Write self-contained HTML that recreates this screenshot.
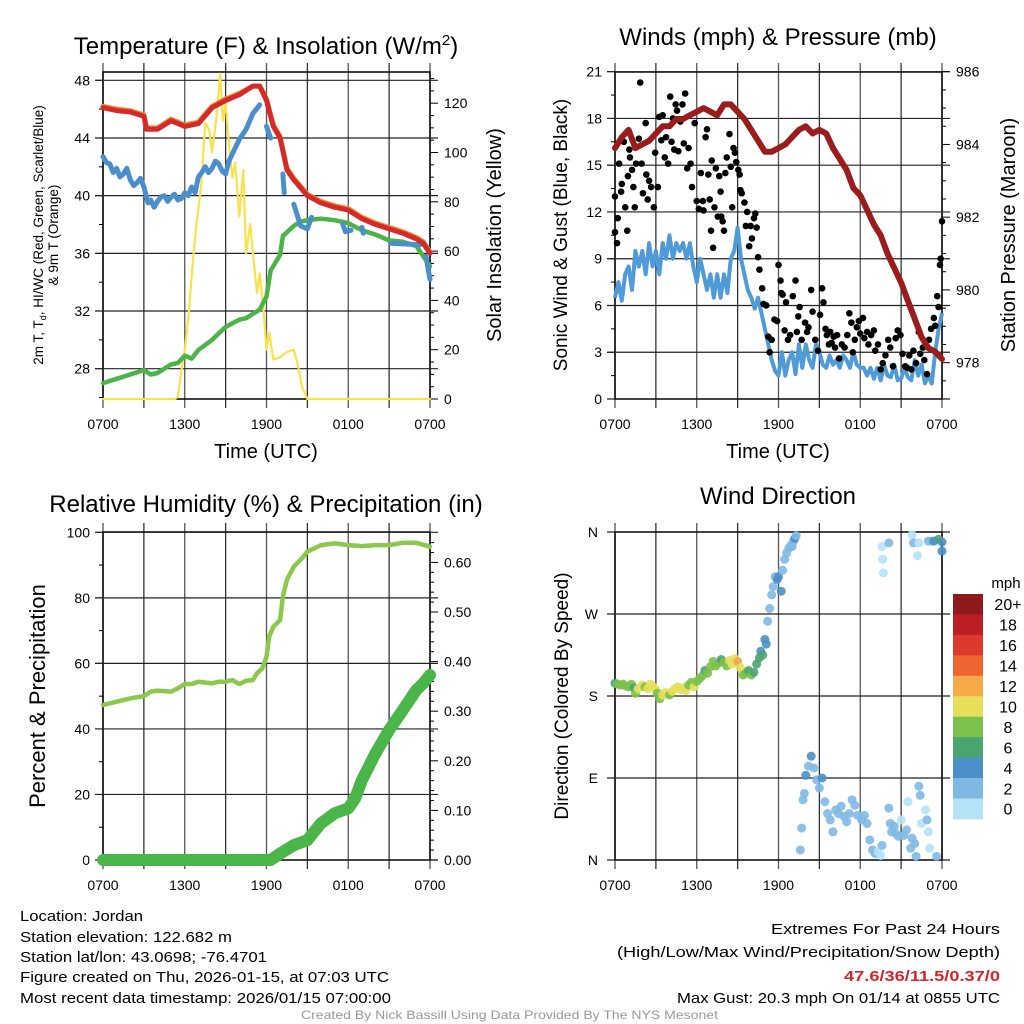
<!DOCTYPE html>
<html><head><meta charset="utf-8">
<style>
html,body{margin:0;padding:0;background:#fff;}
svg{display:block;font-family:"Liberation Sans",sans-serif;}
</style></head>
<body>
<svg id="fig" width="1024" height="1024" viewBox="0 0 1024 1024" xmlns="http://www.w3.org/2000/svg">
<g id="g1"></g>
<g id="g2"></g>
<g id="g3"></g>
<g id="g4"></g>
<g id="info" font-size="15" fill="#000">
<text x="20" y="921" textLength="123" lengthAdjust="spacingAndGlyphs">Location: Jordan</text>
<text x="20" y="942" textLength="212" lengthAdjust="spacingAndGlyphs">Station elevation: 122.682 m</text>
<text x="20" y="962" textLength="247" lengthAdjust="spacingAndGlyphs">Station lat/lon: 43.0698; -76.4701</text>
<text x="20" y="982" textLength="369" lengthAdjust="spacingAndGlyphs">Figure created on Thu, 2026-01-15, at 07:03 UTC</text>
<text x="20" y="1003" textLength="371" lengthAdjust="spacingAndGlyphs">Most recent data timestamp: 2026/01/15 07:00:00</text>
<text x="771" y="934" textLength="229" lengthAdjust="spacingAndGlyphs">Extremes For Past 24 Hours</text>
<text x="617" y="957" textLength="383" lengthAdjust="spacingAndGlyphs">(High/Low/Max Wind/Precipitation/Snow Depth)</text>
<text x="844" y="981" textLength="156" lengthAdjust="spacingAndGlyphs" font-weight="bold" fill="#d0272b">47.6/36/11.5/0.37/0</text>
<text x="677" y="1003" textLength="323" lengthAdjust="spacingAndGlyphs">Max Gust: 20.3 mph On 01/14 at 0855 UTC</text>
<text x="301" y="1019" font-size="12" fill="#999" textLength="417" lengthAdjust="spacingAndGlyphs">Created By Nick Bassill Using Data Provided By The NYS Mesonet</text>
</g>
</svg>
<script>
// ---------- data ----------
const xTickLabels = ["0700","1300","1900","0100","0700"];
// Panel 1: temperature
const tempHours = [0,1,2,3,3.2,4,5,6,7,8,9,10,11,11.5,12,12.5,13,13.5,14,15,16,17,18,19,20,21,22,23,23.5,24];
const tempRed = [46.1,45.9,45.8,45.5,44.6,44.6,45.2,44.8,45.0,46.1,46.6,47.0,47.6,47.6,46.6,44.8,44.0,41.8,41.1,40.0,39.5,39.2,39.0,38.4,38.0,37.7,37.4,37.0,36.7,36.0];
const tempOrange = [46.2,46.0,45.9,45.6,44.7,44.7,45.3,44.9,45.1,46.2,46.7,47.1,47.6,47.6,46.7,44.9,44.1,41.9,41.2,40.1,39.6,39.3,39.1,38.5,38.1,37.8,37.5,37.1,36.8,36.1];
const dewHours = [0,1,2,3,3.5,4,5,5.5,6,6.5,7,8,9,10,10.5,11,11.5,12,12.3,13,13.2,14,14.5,15,16,17,18,19,20,21,22,23,24];
const dewGreen = [27.0,27.3,27.6,27.9,27.6,27.7,28.3,28.4,28.9,28.7,29.3,30.0,30.9,31.4,31.5,31.8,32.1,33.0,34.8,35.9,37.2,37.9,38.2,38.3,38.4,38.3,38.1,37.6,37.3,36.9,36.8,36.5,35.1];
const chillHours = [0,0.25,0.5,0.75,1,1.25,1.5,1.75,2,2.25,2.5,2.75,3,3.3,3.5,3.75,4,4.25,4.5,4.75,5,5.25,5.5,5.75,6,6.25,6.5,6.75,7,7.25,7.5,7.75,8,8.25,8.5,8.75,9,9.25,9.5,10,10.5,11,11.5,11.7,12,12.3,12.5,13.2,13.3,13.6,14,14.5,15,15.3,15.5,17.6,17.8,18.2,18.4,19,19.1,21,21.1,23.3,23.4,23.7,24];
const chillBlue = [42.7,42.3,42.2,41.6,41.9,41.3,41.5,41.9,41.1,40.7,40.9,41.2,40.6,39.5,39.7,39.2,39.6,39.9,40.0,39.6,39.9,40.1,39.7,39.8,40.2,40.0,40.6,40.2,41.3,41.6,42.0,41.6,41.9,42.4,42.2,41.7,41.5,42.4,42.9,43.9,44.6,45.7,46.3,null,44.8,44.0,null,41.5,40.2,null,39.4,37.9,37.7,38.5,null,38.0,37.5,37.6,null,37.8,37.4,null,36.7,36.6,null,35.8,34.2,32.1];
const solarHours = [0,5.3,5.5,5.8,6,6.3,6.6,6.9,7.2,7.5,7.8,8,8.3,8.6,8.8,9,9.3,9.5,9.7,10,10.3,10.5,10.8,11,11.3,11.5,11.8,12,12.2,12.5,13,13.5,14,14.3,14.6,15,24];
const solarYellow = [0,0,1,13,20,35,56,73,86,112,109,100,113,132,113,120,100,90,96,74,93,59,71,59,43,51,35,20,27,16,17,19,20,14,5,0,0];
// Panel 2: winds & pressure
const presHours = [0,0.5,1,1.5,2,2.5,3,3.5,4,4.5,5,5.5,6,6.5,7,7.5,8,8.5,9,9.5,10,10.5,11,11.5,12,12.5,13,13.5,14,14.5,15,15.5,16,16.5,17,17.5,18,18.5,19,19.5,20,20.5,21,21.5,22,22.5,23,23.5,24];
const pressure = [983.9,984.2,984.4,983.9,984.0,984.1,984.3,984.5,984.5,984.7,984.7,984.8,984.9,985.0,984.9,984.8,985.1,985.1,984.9,984.7,984.4,984.1,983.8,983.8,983.9,984.0,984.2,984.4,984.5,984.3,984.4,984.3,983.9,983.6,983.3,982.8,982.6,982.2,981.8,981.5,981.0,980.6,980.2,979.7,979.2,978.7,978.4,978.3,978.1];
const windSpeed = [6.5,7.5,6.3,8,8.5,7,9.5,8.5,9.5,8,10,8.5,9.5,8,10,9,10.5,9,10,9.5,10,9,10,8.5,7.5,9,8,7,8,6.5,8,6.5,8,6.8,9,9.5,11,9,8,7,6.5,5.8,6.5,5.5,4.5,3.5,2.5,1.8,1.5,3,1.5,2.5,3,1.6,3.5,2,3.5,2.5,2,3.5,3,2.2,2,2.8,2.2,2.5,2,2.8,2.5,2,3,2.2,2,2,1.5,2,1.3,2,1.2,2.2,1.5,1.4,2.2,1.2,1.3,2,1.4,1.2,2.5,1.5,2.2,1,1.5,1,3,4.5,5.5];
const gustHours = [0,0,0.15,0.2,0.3,0.45,0.5,0.65,0.75,0.9,0.95,1.05,1.1,1.25,1.35,1.45,1.55,1.75,1.85,1.95,2.05,2.25,2.3,2.4,2.5,2.65,2.85,2.95,3.15,3.25,3.4,3.5,3.65,3.75,3.9,4.05,4.15,4.25,4.35,4.45,4.55,4.65,4.8,4.95,5.05,5.15,5.3,5.4,5.55,5.65,5.85,6,6.15,6.3,6.45,6.5,6.65,6.75,6.85,6.95,7.05,7.1,7.2,7.3,7.4,7.55,7.65,7.75,7.8,7.9,8,8.1,8.2,8.4,8.5,8.6,8.7,8.8,8.9,9.05,9.15,9.2,9.3,9.5,9.6,9.7,9.85,9.95,10.05,10.2,10.3,10.4,10.5,10.6,10.8,10.9,11.1,11.25,11.35,11.5,11.7,11.9,12,12.15,12.2,12.3,12.45,12.55,12.7,12.85,13.05,13.25,13.35,13.45,13.55,13.7,13.95,14.1,14.2,14.4,14.5,14.7,14.9,15.05,15.2,15.3,15.45,15.55,15.7,15.8,15.9,16.05,16.15,16.3,16.45,16.65,16.85,17.05,17.2,17.35,17.45,17.6,17.75,17.9,18,18.2,18.3,18.5,18.6,18.8,19,19.1,19.3,19.5,19.65,19.85,20.05,20.2,20.4,20.6,20.75,20.95,21.1,21.3,21.45,21.6,21.75,21.9,22.1,22.3,22.4,22.6,22.7,22.9,23.05,23.2,23.4,23.5,23.65,23.75,23.85,23.9,24];
const gustSpeed = [10.7,13,10,11.6,15.1,13.3,13.8,16.5,12.3,10.8,14.3,16,15.5,14.7,13.6,12.3,15.1,16.7,20.3,15.1,13.2,17.7,14.4,12.8,14,13.6,12.3,15.8,13.6,18.1,16.6,18.2,15.5,16.8,15.1,19.4,16.5,18,16,18.9,18.5,15.9,17.8,18.9,16.4,19.6,14.8,16.1,15.1,13.6,17.7,12.7,12.2,14.5,12.7,12.1,16.8,17.3,14.4,12.8,10.8,15.3,9.7,12.3,14.8,11.7,14.3,13.3,11.7,11.4,10.8,14.5,15.5,17,14.9,12.3,16.1,15.8,15.2,14.7,14.4,13.4,13.2,12.6,11.1,12,9.8,11.1,10.3,11.6,11.9,11,9.1,8.3,7.1,6.1,6,4,3,3.8,5.1,5,8.6,7.6,6.8,6.7,4.4,6.2,3.8,4.1,6.6,7.6,4.3,5.3,5.9,3.8,4.9,4.3,4.6,7,5.6,3.8,3.1,5.4,7.1,6.2,4.5,4.1,3.5,4.3,3.6,4,3.3,4.1,2.6,3.5,3.3,4.1,5.5,4.9,3,3.8,4.6,5,4.2,5.2,3.9,4.3,3.5,4.1,4.4,3.1,3.5,1.9,2.3,2.8,3.8,3.3,2.1,3.9,4.4,4.1,2.9,2.1,2,2.8,1.9,3.1,2.3,4.3,2.9,3.3,2.5,1.6,3.8,4.5,5.2,4.7,6.6,5.9,8.6,9,11.4];
// Panel 3: RH & precipitation
const rhHours = [0,1,2,3,3.5,4,5,5.5,6,6.5,7,8,8.5,9,9.5,10,10.5,11,11.3,11.7,12,12.2,12.5,13,13.2,13.5,14,14.5,15,15.5,16,17,18,19,20,21,22,23,24];
const rhValues = [47.3,48.3,49.3,50,51.4,51.7,51.4,52.4,53.7,53.7,54.4,53.9,54.4,54.4,54.9,53.7,54.7,54.9,57,58.5,62,68.2,71.2,73.2,80.4,85.5,89.5,91.6,94.1,95.1,96.1,96.6,96.1,95.8,96.1,96.1,96.8,96.8,95.6];
const precipHours = [0,12.3,13,14,15,16,17,18,18.5,19,20,21,22,23,23.5,24];
const precipValues = [0,0,0.013,0.03,0.04,0.074,0.094,0.104,0.124,0.161,0.215,0.262,0.302,0.343,0.356,0.373];
// Panel 4: wind direction
const dirHours = [0,0.2,0.4,0.6,0.8,1.0,1.2,1.4,1.5,1.7,2.0,2.2,2.4,2.6,2.8,3.0,3.1,3.3,3.5,3.7,4.0,4.2,4.4,4.6,4.8,5.0,5.2,5.4,5.6,5.8,6.0,6.2,6.4,6.6,6.8,7.0,7.2,7.4,7.6,7.8,8.0,8.2,8.4,8.6,8.8,9.0,9.2,9.4,9.6,9.8,10.0,10.2,10.4,10.6,10.7,10.85,11.0,11.1,11.2,11.35,11.5,11.6,11.75,11.9,12.0,12.2,12.3,12.45,12.6,12.75,12.9,13.0,13.1,13.2,13.3,
 13.6,13.7,13.8,13.9,14.0,14.2,14.4,14.6,14.8,15.0,15.2,15.4,15.6,15.8,16.0,16.2,16.4,16.6,16.8,17.0,17.2,17.4,17.6,17.8,18.1,18.3,18.5,18.7,18.9,19.1,19.3,19.5,19.6,20.1,20.2,20.3,20.5,20.6,20.8,21.0,21.2,21.4,21.5,21.7,21.8,22.0,22.1,22.3,22.4,22.5,22.8,22.9,23.0,23.1,23.6,
 19.6,19.65,19.7,20.1,21.8,21.9,22.2,22.3,23.0,23.2,23.4,23.75,24.0,24.0];
const dirDegrees = [194,193,192,193,191,190,193,189,183,188,192,190,188,193,190,187,183,177,181,184,181,185,188,190,187,189,186,192,195,190,196,199,202,208,205,212,218,213,216,220,217,213,219,215,221,218,211,203,205,208,203,206,215,222,229,225,242,237,262,276,291,300,311,308,311,295,318,330,337,342,345,344,350,353,356,
 11,35,66,73,93,103,114,101,88,79,90,64,51,44,31,55,51,59,48,42,51,66,60,49,44,49,40,22,11,7,9,5,16,57,40,31,37,29,26,44,27,33,64,13,24,18,4,81,71,40,55,44,31,13,4,
 344,330,315,348,357,348,334,348,350,350,350,352,349,339];
const dirSpeed = [6,7,8,7,8,7,8,6,7,10,9,8,10,10,9,10,7,8,9,10,8,10,10,9,10,9,10,8,7,9,8,7,8,6,8,7,7,8,8,6,7,8,10,10,10,11,10,8,7,6,7,6,6,5,4,5,4,4,2,2,2,1,2,3,4,4,1,2,2,2,2,2,2,3,2,
 2,2,2,2,4,2,4,2,2,2,4,2,2,2,2,2,2,2,2,2,2,2,2,2,2,2,2,2,2,2,0,0,2,2,2,2,2,2,2,0,2,2,0,2,2,2,2,2,2,0,0,2,0,0,2,
 0,0,0,2,0,2,0,0,2,2,3,6,4,4];
const barLabels = ["20+","18","16","14","12","10","8","6","4","2","0"];
const barColors = ["#8e1a1b","#bb1e25","#dc3a2c","#ee6530","#f5a949","#e6df5b","#7cc14b","#49a46f","#4a8fc7","#7fb9e3","#b4e2f7"];

// ---------- helpers ----------
const NS="http://www.w3.org/2000/svg";
function el(parent,tag,attrs){const e=document.createElementNS(NS,tag);for(const k in attrs)e.setAttribute(k,attrs[k]);parent.appendChild(e);return e;}
function txt(parent,x,y,s,size,anchor,extra){const t=el(parent,"text",Object.assign({x:x,y:y,"font-size":size,"text-anchor":anchor||"middle",fill:"#000"},extra||{}));t.textContent=s;return t;}
function linPath(hs,vs,X,Y){let d="",pen=false;for(let i=0;i<hs.length;i++){if(vs[i]===null){pen=false;continue;}d+=(pen?"L":"M")+X(hs[i]).toFixed(1)+","+Y(vs[i]).toFixed(1);pen=true;}return d;}
function frame(g,x0,x1,y0,y1){
  for(let k=0;k<=8;k++){const x=x0+k*(x1-x0)/8;
    const l=el(g,"line",{x1:x,x2:x,y1:y0-9,y2:y1+9,stroke:(k%2? "#333":"#555"),"stroke-width":1.3});
    
    
  }
  for(let k=0;k<5;k++){const t=txt(g,x0+k*(x1-x0)/4,y1+30,xTickLabels[k],14);
    
    }
  const r=el(g,"rect",{x:x0,y:y0,width:x1-x0,height:y1-y0,fill:"none",stroke:"#000","stroke-width":1.5});
  
  
}
function yaxis(g,side,x0,x1,lo,hi,Y,major,minor,fmt,gridOn){
  const xs= side==="L"?x0:x1, dir= side==="L"?-1:1;
  for(let v=lo;v<=hi+1e-9;v+=minor){const y=Y(v);
    const isMaj=Math.abs(v/major-Math.round(v/major))<1e-6;
    el(g,"line",{x1:xs,x2:xs+dir*(isMaj?8:4),y1:y,y2:y,stroke:"#000","stroke-width":1});
    if(isMaj){
      if(gridOn) { const gl=el(g,"line",{x1:x0-8,x2:x1+8,y1:y,y2:y,stroke:"#222","stroke-width":1.2});
        
         }
      const t=txt(g,xs+dir*13,y+5,fmt(v),14,side==="L"?"end":"start");
      
      
    }}
}
function rot(g,x,y,s,size){const t=txt(g,x,y,s,size,"middle",{transform:"rotate(-90 "+x+" "+y+")"});return t;}

// ---------- Panel 1 ----------
(function(){
 const g=document.getElementById("g1");const x0=103,x1=430,y0=72,y1=399;
 const X=h=>x0+h*(x1-x0)/24, T=v=>80.3-(v-48)*14.42, S=v=>399-v*2.465;
 frame(g,x0,x1,y0,y1);
 yaxis(g,"L",x0,x1,26,48,T,4,2,v=>String(v),true);
 for(let v=0;v<=130;v+=5){const isMaj=v%20===0;el(g,"line",{x1:x1,x2:x1+(isMaj?8:4),y1:S(v),y2:S(v),stroke:"#000"});
  if(isMaj){const t=txt(g,x1+14,S(v)+5,String(v),14,"start");}}
 const s=[["solar-line",solarHours,solarYellow,S,"#fae24e",2.2],["dewpoint-line",dewHours,dewGreen,T,"#4bb348",4.5],["windchill-line",chillHours,chillBlue,T,"#4a8fcc",5],["temp-9m-line",tempHours,tempOrange,T,"#f08b31",5],["temp-2m-line",tempHours,tempRed,T,"#d42a2a",5]];
 for(const [n,hs,vs,Yf,c,w] of s){const p=el(g,"path",{d:linPath(hs,vs,X,Yf),fill:"none",stroke:c,"stroke-width":w,"stroke-linejoin":"round","stroke-linecap":"round"});
  
  }
 const t=txt(g,266,54,"",24);t.innerHTML='Temperature (F) &amp; Insolation (W/m<tspan dy="-9" font-size="15">2</tspan><tspan dy="9">)</tspan>';
 
 const a=txt(g,266,458,"Time (UTC)",20);
 const l1=rot(g,43,235,"",13.5);l1.innerHTML='2m T, T<tspan font-size="9" dy="3">d</tspan><tspan dy="-3">, HI/WC (Red, Green, Scarlet/Blue)</tspan>';
 
 const l2=rot(g,58,235,"& 9m T (Orange)",13.5);
 const l3=rot(g,501,235,"Solar Insolation (Yellow)",20);
})();

// ---------- Panel 2 ----------
(function(){
 const g=document.getElementById("g2");const x0=615,x1=942,y0=72,y1=399;
 const X=h=>x0+h*(x1-x0)/24, W=v=>399-v*15.587, P=v=>71.7+(986-v)*36.37;
 frame(g,x0,x1,y0,y1);
 yaxis(g,"L",x0,x1,0,21,W,3,1.5,v=>String(v),true);
 for(let v=977.5;v<=986.01;v+=0.5){const isMaj=Math.abs(v%2)<1e-6;el(g,"line",{x1:x1,x2:x1+(isMaj?8:4),y1:P(v),y2:P(v),stroke:"#000"});
  if(isMaj){const t=txt(g,x1+14,P(v)+5,String(v),14,"start");}}
 const wh=windSpeed.map((_,i)=>i*24/(windSpeed.length-1));
 const pw=el(g,"path",{d:linPath(wh,windSpeed,X,W),fill:"none",stroke:"#4f9bd8","stroke-width":4,"stroke-linejoin":"round"});
 
 
 for(let i=0;i<gustHours.length;i++){const c=el(g,"circle",{cx:X(gustHours[i]),cy:W(gustSpeed[i]),r:3.3,fill:"#000"});
  
  }
 const pp=el(g,"path",{d:linPath(presHours,pressure,X,P),fill:"none",stroke:"#9a1c1c","stroke-width":6,"stroke-linejoin":"round","stroke-linecap":"round"});
 
 
 const t=txt(g,778,45,"Winds (mph) & Pressure (mb)",24);
 const a=txt(g,778,458,"Time (UTC)",20);
 const l=rot(g,567,235,"Sonic Wind & Gust (Blue, Black)",19);
 const r=rot(g,1015,235,"Station Pressure (Maroon)",20);
})();

// ---------- Panel 3 ----------
(function(){
 const g=document.getElementById("g3");const x0=103,x1=430,y0=532,y1=860;
 const X=h=>x0+h*(x1-x0)/24, R=v=>860-v*3.277, Q=v=>860-v*496;
 frame(g,x0,x1,y0,y1);
 yaxis(g,"L",x0,x1,0,100,R,20,10,v=>String(v),true);
 for(let v=0;v<=0.6401;v+=0.02){const isMaj=Math.abs((v*10)-Math.round(v*10))<1e-6;el(g,"line",{x1:x1,x2:x1+(isMaj?8:4),y1:Q(v),y2:Q(v),stroke:"#000"});
  if(isMaj){const t=txt(g,x1+14,Q(v)+5,v.toFixed(2),14,"start");}}
 const pq=el(g,"path",{d:linPath(precipHours,precipValues,X,Q),fill:"none",stroke:"#4ab548","stroke-width":12,"stroke-linejoin":"round","stroke-linecap":"round"});
 
 
 const pr=el(g,"path",{d:linPath(rhHours,rhValues,X,R),fill:"none",stroke:"#8cc84b","stroke-width":4.5,"stroke-linejoin":"round","stroke-linecap":"round"});
 
 
 const t=txt(g,266,512,"Relative Humidity (%) & Precipitation (in)",24);
 const l=rot(g,45,696,"Percent & Precipitation",22);
})();

// ---------- Panel 4 ----------
(function(){
 const g=document.getElementById("g4");const x0=615,x1=942,y0=532,y1=860;
 const X=h=>x0+h*(x1-x0)/24, D=v=>860-v*(y1-y0)/360;
 frame(g,x0,x1,y0,y1);
 const labs=["N","E","S","W","N"];
 for(let k=0;k<5;k++){const y=D(k*90);
  el(g,"line",{x1:x0-8,x2:x1+8,y1:y,y2:y,stroke:"#222","stroke-width":1.2});
  const t=txt(g,598,y+5,labs[k],14,"end");}
 for(let i=0;i<dirHours.length;i++){
  const bin=Math.min(10,Math.round(dirSpeed[i]/2));
  const c=el(g,"circle",{cx:X(dirHours[i]),cy:D(dirDegrees[i]),r:4.5,fill:barColors[10-bin],"fill-opacity":0.9});
  
  
 }
 const bx=953,by=594,bh=20.45;
 for(let k=0;k<barColors.length;k++){
  const r=el(g,"rect",{x:bx,y:by+k*bh,width:30,height:bh+0.5,fill:barColors[k]});
  
  
  const t=txt(g,1008,by+k*bh+bh/2+6,barLabels[k],16,"middle");
  
  
 }
 const u=txt(g,1006,588,"mph",15,"middle");
 const t=txt(g,778,504,"Wind Direction",24);
 const l=rot(g,568,696,"Direction (Colored By Speed)",19);
})();
</script>
</body></html>
